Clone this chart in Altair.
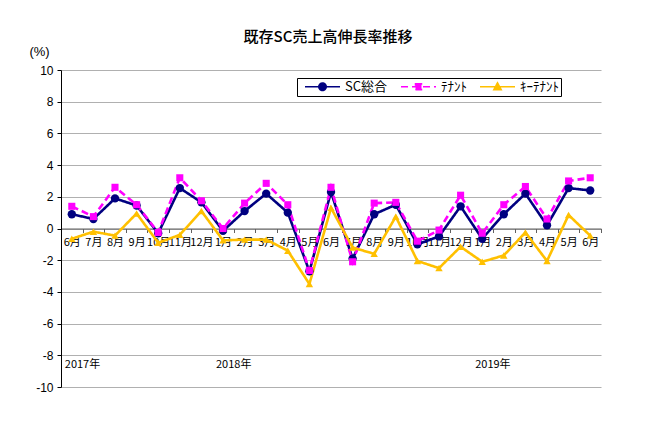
import altair as alt
import pandas as pd

title = "既存SC売上高伸長率推移"
years = [2017, 2017, 2017, 2017, 2017, 2017, 2017,
         2018, 2018, 2018, 2018, 2018, 2018, 2018, 2018, 2018, 2018, 2018, 2018,
         2019, 2019, 2019, 2019, 2019, 2019]
months = [6, 7, 8, 9, 10, 11, 12,
          1, 2, 3, 4, 5, 6, 7, 8, 9, 10, 11, 12,
          1, 2, 3, 4, 5, 6]
series_names = ["SC総合", "ﾃﾅﾝﾄ", "ｷｰﾃﾅﾝﾄ"]
series_colors = ["#000080", "#ff00ff", "#ffc000"]
series_markers = ["circle", "square", "triangle-up"]
series_dashes = [[1, 0], [7, 4], [1, 0]]
sc_total = [0.9, 0.6, 1.9, 1.45, -0.3, 2.55, 1.65, -0.15, 1.1, 2.2, 1.0, -2.7, 2.3,
            -1.9, 0.9, 1.5, -1.0, -0.5, 1.4, -0.65, 0.9, 2.2, 0.2, 2.55, 2.4]
tenant = [1.4, 0.75, 2.6, 1.5, -0.25, 3.2, 1.75, 0.0, 1.6, 2.85, 1.5, -2.65, 2.6,
          -2.1, 1.6, 1.65, -0.8, -0.1, 2.1, -0.3, 1.5, 2.65, 0.6, 3.0, 3.2]
key_tenant = [-0.65, -0.2, -0.45, 0.95, -0.9, -0.4, 1.1, -0.75, -0.7, -0.7, -1.4, -3.5, 1.3,
              -1.2, -1.6, 0.75, -2.05, -2.5, -1.15, -2.1, -1.7, -0.25, -2.05, 0.85, -0.45]
year_label_periods = ["2017/6", "2018/1", "2019/1"]
year_labels = ["2017年", "2018年", "2019年"]
y_ticks = [-10, -8, -6, -4, -2, 0, 2, 4, 6, 8, 10]

periods = [f"{y}/{m}" for y, m in zip(years, months)]
rows = []
for si, (name, vals) in enumerate(zip(series_names, [sc_total, tenant, key_tenant])):
    for p, v in zip(periods, vals):
        rows.append({"period": p, "series": name, "value": v, "ord": si})
df = pd.DataFrame(rows)
ydf = pd.DataFrame({"period": year_label_periods, "label": year_labels, "value": [-8, -8, -8]})

FONT = "Noto Sans CJK JP"

x_enc = alt.X(
    "period:O", sort=periods, title=None,
    scale=alt.Scale(type="band", paddingInner=0, paddingOuter=0),
    axis=alt.Axis(
        offset=-158.5, tickBand="extent", tickSize=4, tickColor="#606060",
        domainColor="#606060", domainWidth=1, labelAngle=0, labelPadding=4,
        labelFontSize=11, labelFont=FONT, labelColor="#000000",
        labelExpr="isString(datum.value) ? split(datum.value, '/')[1] + '月' : ''",
        grid=False,
    ),
)
y_enc = alt.Y(
    "value:Q",
    scale=alt.Scale(domain=[-10, 10], nice=False, zero=False),
    axis=alt.Axis(
        values=y_ticks, grid=True, gridColor="#b0b0b0", gridWidth=1.2,
        domainColor="#000000", tickColor="#000000", tickSize=4,
        labelFontSize=12, labelFont="Liberation Sans", labelColor="#000000",
        labelExpr="'' + datum.value", labelPadding=4,
        title="(%)", titleAngle=0, titleX=-22, titleY=-19, titleAlign="center",
        titleBaseline="middle", titleFontWeight="normal", titleFontSize=13,
        titleFont="Liberation Sans", titleColor="#000000",
    ),
)

legend_shapes = [
    "M-3.5,0H3.5M0.75,0A0.75,0.75 0 1,1 -0.75,0A0.75,0.75 0 1,1 0.75,0",
    "M-3.5,0H3.5M-0.6,-0.6H0.6V0.6H-0.6Z",
    "M-3.5,0H3.5M0,-0.8L0.75,0.6H-0.75Z",
]

legend = alt.Legend(
    orient="none", legendX=236, legendY=8, direction="horizontal", title=None,
    strokeColor="#000000", fillColor="#ffffff", padding=2,
    symbolOffset=17, labelOffset=16, columnPadding=7, symbolOpacity=1,
    labelFontSize=13, labelFont=FONT, labelColor="#000000",
)

color_scale = alt.Scale(domain=series_names, range=series_colors)
dash_scale = alt.Scale(domain=series_names, range=series_dashes)

lines = alt.Chart(df).mark_line(strokeWidth=2.6).encode(
    x=x_enc, y=y_enc,
    color=alt.Color("series:N", scale=color_scale, legend=None),
    strokeDash=alt.StrokeDash("series:N", scale=dash_scale, legend=legend),
    order=alt.Order("ord:Q"),
)

point_layers = []
for name, marker, sz in zip(series_names, series_markers, [70, 50, 55]):
    point_layers.append(
        alt.Chart(df).transform_filter(alt.datum.series == name)
        .mark_point(filled=True, opacity=1, shape=marker, size=sz)
        .encode(x=x_enc, y=y_enc, color=alt.Color("series:N", scale=color_scale, legend=None))
    )

legend_layer = alt.Chart(df).mark_point(size=100, strokeWidth=2.5, opacity=0).encode(
    x=x_enc, y=y_enc,
    fill=alt.Fill("series:N", scale=alt.Scale(domain=series_names, range=series_colors), legend=legend),
    stroke=alt.Stroke("series:N", scale=alt.Scale(domain=series_names, range=series_colors), legend=legend),
    shape=alt.Shape("series:N", scale=alt.Scale(domain=series_names, range=legend_shapes), legend=legend),
    strokeDash=alt.StrokeDash("series:N", scale=dash_scale, legend=legend),
)
years_text = alt.Chart(ydf).mark_text(
    align="left", baseline="top", dx=-7, dy=4, fontSize=11, font=FONT, color="#000000"
).encode(x=x_enc, y=y_enc, text="label:N")

chart = alt.layer(legend_layer, lines, *point_layers, years_text).properties(
    width=540, height=317,
    title=alt.Title(title, fontSize=15, font=FONT, fontWeight=500, color="#000000",
                    anchor="middle", frame="group", offset=0, dx=-3),
    autosize=alt.AutoSizeParams(type="none"),
    padding={"left": 53, "top": 62, "right": 41, "bottom": 29},
).configure_view(stroke=None)

chart.save("out.html", embed_options={"renderer": "svg", "actions": False})
